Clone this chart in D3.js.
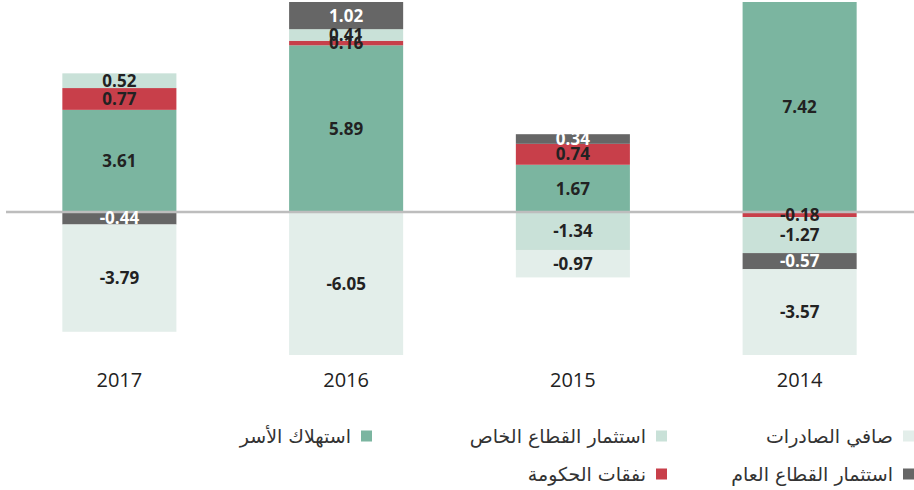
<!DOCTYPE html>
<html lang="ar">
<head>
<meta charset="utf-8">
<script src="https://cdn.jsdelivr.net/npm/d3@7"></script>
<style>
  html, body { margin: 0; padding: 0; background: #fff; }
  svg { display: block; }
  .val { font-family: "Open Sans", "Noto Sans", sans-serif; font-weight: 700; font-size: 17px; }
  .year { font-family: "Open Sans", "Noto Sans", sans-serif; font-size: 20px; fill: #222; }
  .leg { font-family: "DejaVu Sans", sans-serif; font-size: 19px; fill: #333; }
</style>
</head>
<body>
<div id="chart"></div>
<script>
const years = ["2017", "2016", "2015", "2014"];
const household = [3.61, 5.89, 1.67, 7.42];
const government = [0.77, 0.16, 0.74, -0.18];
const privateInv = [0.52, 0.41, -1.34, -1.27];
const publicInv = [-0.44, 1.02, 0.34, -0.57];
const netExports = [-3.79, -6.05, -0.97, -3.57];

const seriesNames = {
  household: "استهلاك الأسر",
  government: "نفقات الحكومة",
  privateInv: "استثمار القطاع الخاص",
  publicInv: "استثمار القطاع العام",
  netExports: "صافي الصادرات"
};
const colors = {
  household: "#7bb5a0",
  government: "#c83f4a",
  privateInv: "#c9e1d8",
  publicInv: "#666666",
  netExports: "#e3eeea"
};

const keys = ["household", "government", "privateInv", "publicInv", "netExports"];
const table = years.map((y, i) => ({
  year: y,
  household: household[i],
  government: government[i],
  privateInv: privateInv[i],
  publicInv: publicInv[i],
  netExports: netExports[i]
}));

const width = 914, height = 490;
const fmt = d3.formatLocale({ decimal: ".", thousands: ",", grouping: [3], currency: ["", ""], minus: "-" }).format(".2f");

const svg = d3.select("#chart").append("svg")
  .attr("width", width)
  .attr("height", height);

const x = d3.scaleBand()
  .domain(years)
  .range([6, 913])
  .paddingInner(0.497)
  .paddingOuter(0.2485);

const y = d3.scaleLinear()
  .domain([-5.05, 7.42])
  .range([355, 2])
  .clamp(true);

const stacked = d3.stack()
  .keys(keys)
  .offset(d3.stackOffsetDiverging)(table);

const groups = svg.append("g")
  .selectAll("g")
  .data(stacked)
  .join("g")
  .attr("fill", d => colors[d.key]);

groups.selectAll("rect")
  .data(d => d)
  .join("rect")
  .attr("x", d => x(d.data.year))
  .attr("width", x.bandwidth())
  .attr("y", d => y(Math.max(d[0], d[1])))
  .attr("height", d => Math.abs(y(d[0]) - y(d[1])));

// zero line
svg.append("line")
  .attr("x1", 6)
  .attr("x2", width)
  .attr("y1", y(0))
  .attr("y2", y(0))
  .attr("stroke", "#bdbdbd")
  .attr("stroke-width", 2.5);

// value labels
const labels = svg.append("g");
stacked.forEach(s => {
  s.forEach(p => {
    const v = p.data[s.key];
    const top = y(Math.max(p[0], p[1]));
    const bot = y(Math.min(p[0], p[1]));
    labels.append("text")
      .attr("class", "val")
      .attr("x", x(p.data.year) + x.bandwidth() / 2)
      .attr("y", (top + bot) / 2)
      .attr("dy", "0.36em")
      .attr("text-anchor", "middle")
      .attr("fill", s.key === "publicInv" ? "#fff" : "#222")
      .text(fmt(v));
  });
});

// year axis
const xAxis = svg.append("g")
  .attr("transform", `translate(0,${y.range()[0]})`)
  .call(d3.axisBottom(x).tickSize(0).tickPadding(18));
xAxis.select(".domain").remove();
xAxis.selectAll("text").attr("class", "year").attr("font-size", null).attr("font-family", null);

// legend (right to left)
const legendItems = [
  { key: "netExports", col: 0, row: 0 },
  { key: "privateInv", col: 1, row: 0 },
  { key: "household", col: 2, row: 0 },
  { key: "publicInv", col: 0, row: 1 },
  { key: "government", col: 1, row: 1 }
];
const colRight = [914, 667, 372];
const rowY = [436, 474];

const leg = svg.append("g")
  .selectAll("g")
  .data(legendItems)
  .join("g")
  .attr("transform", d => `translate(${colRight[d.col]},${rowY[d.row]})`);

leg.append("rect")
  .attr("x", -11)
  .attr("y", -5.5)
  .attr("width", 11)
  .attr("height", 11)
  .attr("fill", d => colors[d.key]);

leg.append("text")
  .attr("class", "leg")
  .attr("x", -21)
  .attr("dy", "0.35em")
  .attr("text-anchor", "end")
  .text(d => seriesNames[d.key]);
</script>
</body>
</html>
